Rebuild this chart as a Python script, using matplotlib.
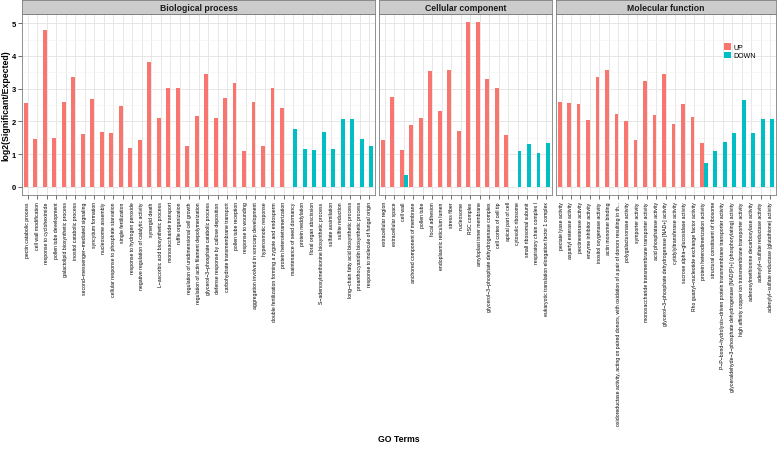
import matplotlib
matplotlib.use("Agg")
import matplotlib.pyplot as plt
from matplotlib.patches import Patch
import numpy as np

plt.rcParams['font.family'] = ['Liberation Sans', 'DejaVu Sans']

# ---- data ----
facets = ["Biological process", "Cellular component", "Molecular function"]

bp_terms = [
    "pectin catabolic process", "cell wall modification", "response to cycloheximide",
    "pollen tube development", "galactolipid biosynthetic process", "inositol catabolic process",
    "second−messenger−mediated signaling", "syncytium formation", "nucleosome assembly",
    "cellular response to phosphate starvation", "single fertilization",
    "response to hydrogen peroxide", "negative regulation of catalytic activity",
    "synergid death", "L−ascorbic acid biosynthetic process", "monosaccharide transport",
    "ruffle organization", "regulation of unidimensional cell growth",
    "regulation of actin filament depolymerization", "glycerol−3−phosphate catabolic process",
    "defense response by callose deposition", "carbohydrate transmembrane transport",
    "pollen tube reception", "response to wounding",
    "aggregation involved in sorocarp development", "hyperosmotic response",
    "double fertilization forming a zygote and endosperm", "protein heterotetramerization",
    "maintenance of seed dormancy", "protein neddylation", "floral organ abscission",
    "S−adenosylmethionine biosynthetic process", "sulfate assimilation", "sulfite reduction",
    "long−chain fatty acid biosynthetic process", "proanthocyanidin biosynthetic process",
    "response to molecule of fungal origin",
]
bp_up = [2.56, 1.47, 4.79, 1.50, 2.58, 3.36, 1.62, 2.67, 1.67, 1.65, 2.46, 1.20, 1.44, 3.80,
         2.11, 3.03, 3.03, 1.24, 2.17, 3.45, 2.09, 2.71, 3.16, 1.10, 2.58, 1.25, 3.03, 2.40,
         None, None, None, None, None, None, None, None, None]
bp_down = [None] * 28 + [1.76, 1.16, 1.13, 1.66, 1.17, 2.07, 2.07, 1.47, 1.25]

cc_terms = [
    "extracellular region", "extracellular space", "cell wall",
    "anchored component of membrane", "pollen tube", "focal adhesion",
    "endoplasmic reticulum lumen", "stress fiber", "nucleosome", "RSC complex",
    "amyloplast inner membrane", "glycerol−3−phosphate dehydrogenase complex",
    "cell cortex of cell tip", "apical part of cell", "cytosolic ribosome",
    "small ribosomal subunit", "respiratory chain complex I",
    "eukaryotic translation elongation factor 1 complex",
]
cc_up = [1.44, 2.75, 1.13, 1.90, 2.09, 3.53, 2.31, 3.57, 1.70, 5.03, 5.03, 3.30, 3.03, 1.57,
         None, None, None, None]
cc_down = [None, None, 0.35] + [None] * 11 + [1.10, 1.31, 1.04, 1.34]

mf_terms = [
    "pectate lyase activity", "aspartyl esterase activity", "pectinesterase activity",
    "enzyme inhibitor activity", "inositol oxygenase activity", "actin monomer binding",
    "oxidoreductase activity, acting on paired donors, with oxidation of a pair of donors resulting in th...",
    "polygalacturonase activity", "symporter activity",
    "monosaccharide transmembrane transporter activity", "acid phosphatase activity",
    "glycerol−3−phosphate dehydrogenase [NAD+] activity", "cytidylyltransferase activity",
    "sucrose alpha−glucosidase activity", "Rho guanyl−nucleotide exchange factor activity",
    "protein heterodimerization activity", "structural constituent of ribosome",
    "P−P−bond−hydrolysis−driven protein transmembrane transporter activity",
    "glyceraldehyde−3−phosphate dehydrogenase [NAD(P)+] (phosphorylating) activity",
    "high affinity copper ion transmembrane transporter activity",
    "adenosylmethionine decarboxylase activity", "adenylyl−sulfate reductase activity",
    "adenylyl−sulfate reductase (glutathione) activity",
]
mf_up = [2.59, 2.55, 2.52, 2.05, 3.36, 3.57, 2.23, 2.02, 1.44, 3.22, 2.20, 3.45, 1.92, 2.52,
         2.14, 1.33, None, None, None, None, None, None, None]
mf_down = [None] * 15 + [0.73, 1.08, 1.38, 1.65, 2.65, 1.65, 2.06, 2.06]

terms = [bp_terms, cc_terms, mf_terms]
ups = [bp_up, cc_up, mf_up]
downs = [bp_down, cc_down, mf_down]

UP_COL = "#F8766D"
DOWN_COL = "#00BFC4"

# ---- layout (pixels) ----
W, H = 779, 456
fig = plt.figure(figsize=(W / 100, H / 100), dpi=100)

left_px, right_px, gap_px = 22, 776, 4
panel_top, panel_bot = 15, 196
units = [len(t) + 0.2 for t in terms]
u = (right_px - left_px - gap_px * 2) / sum(units)

axes = []
x0 = left_px
for i, name in enumerate(facets):
    w = units[i] * u
    ax = fig.add_axes([x0 / W, 1 - panel_bot / H, w / W, (panel_bot - panel_top) / H])
    sax = fig.add_axes([x0 / W, 1 - panel_top / H, w / W, 14 / H])
    sax.set_facecolor("#CCCCCC")
    sax.set_xticks([])
    sax.set_yticks([])
    for s in sax.spines.values():
        s.set_color("#7F7F7F")
        s.set_linewidth(0.6)
    sax.text(0.5, 0.45, name, ha="center", va="center", fontsize=6.2, fontweight="bold",
             color="#1A1A1A", transform=sax.transAxes)
    axes.append(ax)
    x0 += w + gap_px

for i, ax in enumerate(axes):
    n = len(terms[i])
    x = np.arange(n)
    up = np.array([np.nan if v is None else v for v in ups[i]], dtype=float)
    dn = np.array([np.nan if v is None else v for v in downs[i]], dtype=float)
    m = ~np.isnan(up)
    ax.bar(x[m] - 0.2, up[m], width=0.4, color=UP_COL, zorder=3)
    m = ~np.isnan(dn)
    ax.bar(x[m] + 0.2, dn[m], width=0.4, color=DOWN_COL, zorder=3)

    ax.set_xlim(-0.6, n - 0.4)
    ax.set_ylim(-0.25, 5.28)
    ax.set_xticks(x)
    ax.set_xticklabels(terms[i], rotation=90, fontsize=3.7, ha="center", va="top")
    ax.set_yticks(range(6))
    ax.set_yticks(np.arange(0.5, 5.5, 1), minor=True)
    ax.grid(True, which="major", color="#E3E3E3", linewidth=0.6, zorder=0)
    ax.grid(True, which="minor", axis="y", color="#F2F2F2", linewidth=0.4, zorder=0)
    ax.set_axisbelow(True)
    ax.tick_params(axis="x", length=3, width=0.5, color="#333333", pad=1.5)
    ax.tick_params(axis="y", which="major", length=3, width=0.5, color="#333333",
                   labelsize=5.5, pad=1.5)
    ax.tick_params(axis="y", which="minor", length=0)
    for s in ax.spines.values():
        s.set_color("#7F7F7F")
        s.set_linewidth(0.6)
    if i > 0:
        ax.tick_params(axis="y", labelleft=False, length=0)
    else:
        for lab in ax.get_yticklabels():
            lab.set_fontweight("bold")

fig.text(6 / W, 1 - (panel_top + panel_bot) / 2 / H, "log2(Significant/Expected)",
         rotation=90, ha="center", va="center", fontsize=6.3, fontweight="bold")
fig.text((left_px + right_px) / 2 / W, 1 - 440 / H, "GO Terms", ha="center", va="center",
         fontsize=6.3, fontweight="bold")

handles = [Patch(facecolor=UP_COL, label="UP"), Patch(facecolor=DOWN_COL, label="DOWN")]
fig.legend(handles=handles, loc="upper left", bbox_to_anchor=(724 / W, 1 - 44 / H),
           frameon=False, fontsize=5, handlelength=1.0, handleheight=1.1,
           handletextpad=0.3, labelspacing=0.15, borderpad=0, borderaxespad=0)

fig.savefig("out.png", dpi=100)
